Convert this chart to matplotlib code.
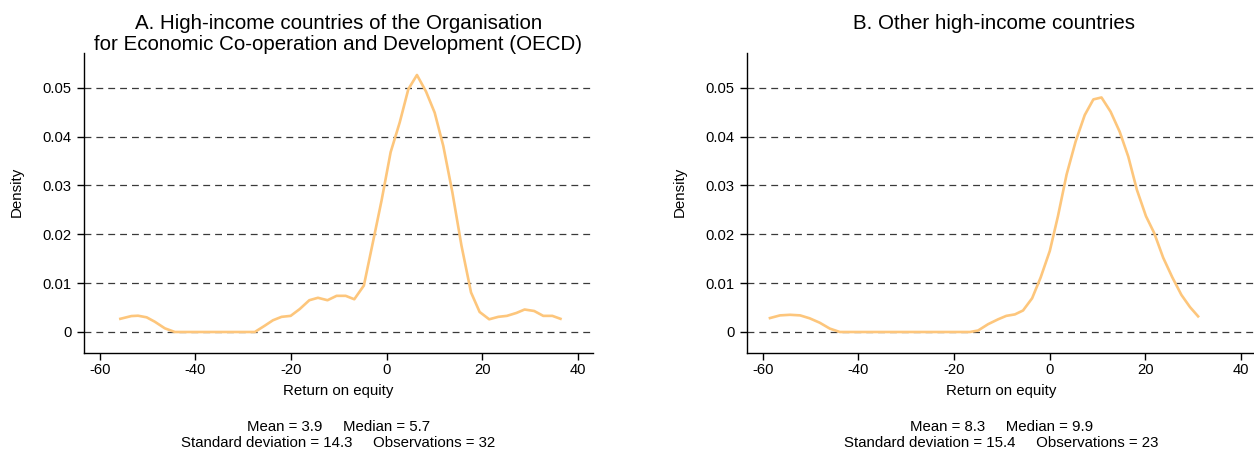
import matplotlib
matplotlib.use("Agg")
import matplotlib.pyplot as plt

plt.rcParams["font.family"] = ["Liberation Sans", "DejaVu Sans"]

# Kernel density estimates of return on equity (%)
oecd_roe = [-55.7, -53.4, -52.0, -50.2, -48.5, -46.4, -44.3, -42.4, -40.5, -38.6,
            -36.7, -34.8, -32.9, -31.0, -29.1, -27.6, -25.5, -23.8, -22.0, -20.1,
            -18.2, -16.2, -14.4, -12.4, -10.5, -8.6, -6.8, -4.8, -2.9, -1.1,
            0.8, 2.7, 4.5, 6.3, 8.2, 10.0, 11.8, 13.7, 15.6, 17.6,
            19.4, 21.4, 23.3, 25.1, 27.1, 28.8, 30.8, 32.7, 34.6, 36.3]
oecd_density = [0.0027, 0.00326, 0.00333, 0.0030, 0.0021, 0.00075, 0.0, 0.0, 0.0, 0.0,
                0.0, 0.0, 0.0, 0.0, 0.0, 0.0, 0.0013, 0.0024, 0.0031, 0.0033,
                0.0047, 0.0065, 0.0070, 0.0065, 0.0074, 0.0074, 0.0067, 0.0095, 0.0184, 0.0269,
                0.0368, 0.0429, 0.0497, 0.0526, 0.0492, 0.0449, 0.0381, 0.0286, 0.0177, 0.0081,
                0.0041, 0.0026, 0.0031, 0.0033, 0.0039, 0.0046, 0.0043, 0.0033, 0.0033, 0.0027]

other_roe = [-58.5, -56.4, -54.3, -52.2, -50.2, -48.1, -46.0, -43.9, -42.0, -40.2,
             -38.4, -36.5, -34.7, -32.9, -31.0, -29.2, -27.4, -25.5, -23.7, -21.9,
             -20.0, -18.2, -16.7, -15.0, -12.9, -10.8, -9.1, -7.3, -5.6, -3.7,
             -1.9, 0.0, 1.7, 3.5, 5.4, 7.3, 9.1, 10.8, 12.7, 14.6,
             16.4, 18.2, 20.1, 21.8, 23.7, 25.6, 27.5, 29.3, 31.0]
other_density = [0.00285, 0.0034, 0.00352, 0.0034, 0.0028, 0.0019, 0.0007, 0.0, 0.0, 0.0,
                 0.0, 0.0, 0.0, 0.0, 0.0, 0.0, 0.0, 0.0, 0.0, 0.0,
                 0.0, 0.0, 0.0, 0.0003, 0.0016, 0.0026, 0.0033, 0.0036, 0.0044, 0.0069,
                 0.0112, 0.0166, 0.0237, 0.0322, 0.0390, 0.0444, 0.0476, 0.0480, 0.0451, 0.0410,
                 0.0359, 0.0291, 0.0237, 0.0203, 0.0152, 0.0112, 0.0076, 0.0051, 0.0032]

titles = ["A. High-income countries of the Organisation\nfor Economic Co-operation and Development (OECD)",
          "B. Other high-income countries"]
stats_line1 = ["Mean = 3.9     Median = 5.7", "Mean = 8.3     Median = 9.9"]
stats_line2 = ["Standard deviation = 14.3     Observations = 32",
               "Standard deviation = 15.4     Observations = 23"]

x_ticks = [-60, -40, -20, 0, 20, 40]
y_ticks = [0, 0.01, 0.02, 0.03, 0.04, 0.05]
y_ticklabels = ["0", "0.01", "0.02", "0.03", "0.04", "0.05"]

LINE_COLOR = "#FDC67C"
W, H = 1254, 449

fig = plt.figure(figsize=(W / 100, H / 100), dpi=100)


def fy(px):
    return 1 - px / H


panels = [
    (84, oecd_roe, oecd_density, 0.5),
    (747, other_roe, other_density, 0.485),
]
ax_w = 509
for i, (left_px, xs, ys, title_x) in enumerate(panels):
    ax = fig.add_axes([left_px / W, fy(353), ax_w / W, (353 - 53) / H])
    ax.set_xlim(-63.3, 43.1)
    ax.set_ylim(-0.0043, 0.0571)
    for yt in y_ticks:
        ax.axhline(yt, color="#3a3a3a", lw=0.9, ls=(0, (5.5, 4)), zorder=1)
    ax.plot(xs, ys, color=LINE_COLOR, lw=1.9, zorder=3, solid_joinstyle="round")
    ax.set_xticks(x_ticks)
    ax.set_xticklabels([str(t) for t in x_ticks])
    ax.set_yticks(y_ticks)
    ax.set_yticklabels(y_ticklabels)
    for s in ["top", "right"]:
        ax.spines[s].set_visible(False)
    for s in ["left", "bottom"]:
        ax.spines[s].set_linewidth(1.0)
        ax.spines[s].set_color("black")
    ax.tick_params(axis="both", direction="out", length=5, width=1.0,
                   labelsize=10.6, colors="black")
    ax.tick_params(axis="x", pad=2)
    ax.tick_params(axis="y", pad=4)

    cx = (left_px + ax_w / 2) / W
    fig.text((left_px + ax_w * title_x) / W, fy(34.2) if i == 0 else fy(23.3), titles[i],
             ha="center", va="center", fontsize=14.8, linespacing=1.14)
    fig.text(cx, fy(391), "Return on equity", ha="center", va="center", fontsize=10.8)
    fig.text((left_px - 67) / W, fy(192), "Density", rotation=90,
             ha="center", va="center", fontsize=10.8)
    fig.text(cx, fy(427), stats_line1[i], ha="center", va="center", fontsize=10.8)
    fig.text(cx, fy(443), stats_line2[i], ha="center", va="center", fontsize=10.8)

fig.savefig("out.png", dpi=100, facecolor="white")
